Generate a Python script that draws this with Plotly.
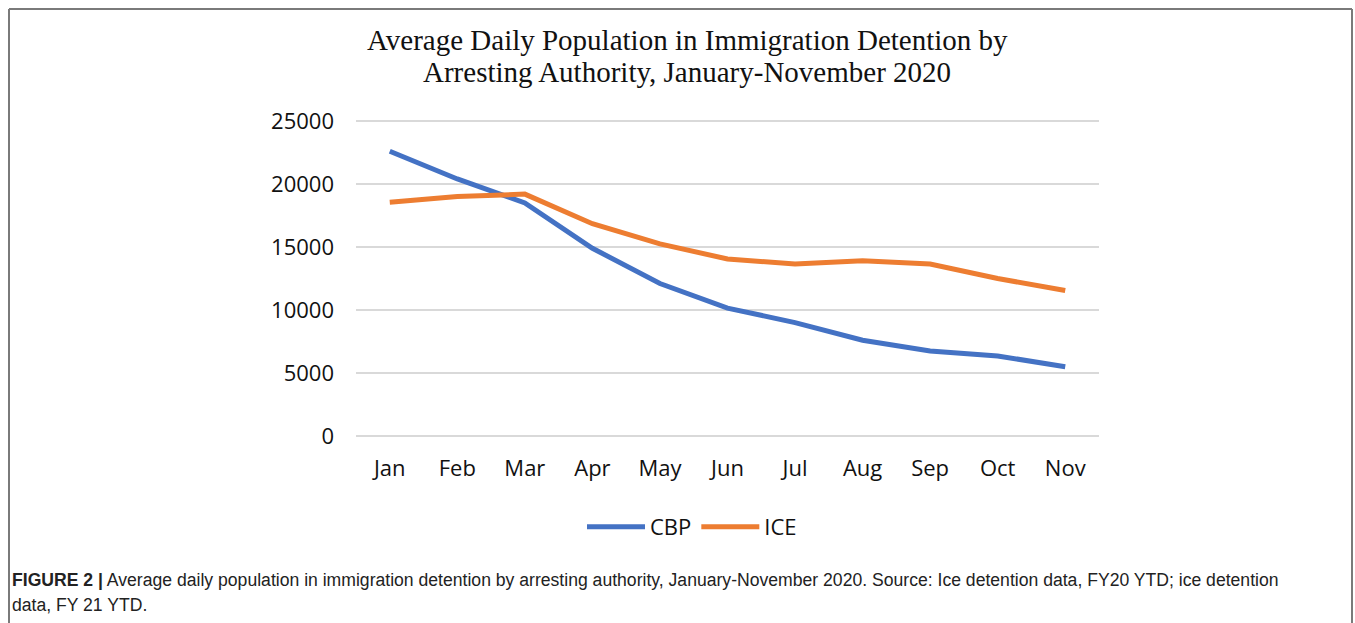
import plotly.graph_objects as go

months = ["Jan", "Feb", "Mar", "Apr", "May", "Jun", "Jul", "Aug", "Sep", "Oct", "Nov"]
cbp = [22600, 20400, 18500, 14900, 12100, 10150, 9000, 7600, 6750, 6350, 5500]
ice = [18550, 19000, 19200, 16850, 15250, 14050, 13650, 13900, 13650, 12500, 11550]
y_ticks = [0, 5000, 10000, 15000, 20000, 25000]

W, H = 1355, 623
Y_TOP, Y_BOT = 121, 436          # pixel rows of 25000 and 0
PAD = 400                        # extra data units above/below so edge gridlines render
scale = (Y_BOT - Y_TOP) / 25000.0
L, R = 356, 1099
T = Y_TOP - PAD * scale
B = Y_BOT + PAD * scale


def px_x(px):
    return (px - L) / (R - L)


def px_y(py):
    return (B - py) / (B - T)


fig = go.Figure()
fig.add_trace(go.Scatter(x=months, y=cbp, name="CBP", mode="lines",
                         line=dict(color="#4472C4", width=5)))
fig.add_trace(go.Scatter(x=months, y=ice, name="ICE", mode="lines",
                         line=dict(color="#ED7D31", width=5)))

fig.update_layout(
    width=W, height=H,
    margin=dict(l=L, r=W - R, t=T, b=H - B, autoexpand=False),
    paper_bgcolor="white", plot_bgcolor="white",
    showlegend=True,
    legend=dict(orientation="h", x=px_x(692), y=px_y(527), xanchor="center", yanchor="middle",
                font=dict(family="Open Sans", size=22, color="#111"),
                itemwidth=58, bgcolor="rgba(0,0,0,0)"),
    xaxis=dict(type="category", range=[-0.5, 10.5], showgrid=False, showline=False,
               ticks="", ticklabelstandoff=int(round(17 - PAD * scale)),
               tickfont=dict(family="Open Sans", size=22, color="#111")),
    yaxis=dict(range=[-PAD, 25000 + PAD], tickvals=y_ticks, ticktext=[str(v) for v in y_ticks],
               showgrid=True, gridcolor="#D9D9D9", gridwidth=2, zeroline=False,
               showline=False, ticks="", ticklabelstandoff=21,
               tickfont=dict(family="Open Sans", size=22, color="#111")),
)

title_font = dict(family="Liberation Serif", size=29, color="#111")
caption_font = dict(family="Liberation Sans", size=17.6, color="#222")
annotations = [
    dict(text="Average Daily Population in Immigration Detention by",
         x=px_x(687), y=px_y(40), xref="paper", yref="paper", xanchor="center", yanchor="middle",
         showarrow=False, font=title_font),
    dict(text="Arresting Authority, January-November 2020",
         x=px_x(687), y=px_y(72), xref="paper", yref="paper", xanchor="center", yanchor="middle",
         showarrow=False, font=title_font),
    dict(text="<b>FIGURE 2 |</b> Average daily population in immigration detention by arresting authority, January-November 2020. Source: Ice detention data, FY20 YTD; ice detention",
         x=px_x(10), y=px_y(580), xref="paper", yref="paper", xanchor="left", yanchor="middle",
         showarrow=False, font=caption_font),
    dict(text="data, FY 21 YTD.",
         x=px_x(10), y=px_y(605), xref="paper", yref="paper", xanchor="left", yanchor="middle",
         showarrow=False, font=caption_font),
]
fig.update_layout(annotations=annotations)

border = dict(color="#7a7a7a", width=2)
fig.update_layout(shapes=[
    dict(type="line", xref="paper", yref="paper", x0=px_x(9), x1=px_x(1352), y0=px_y(9), y1=px_y(9), line=border),
    dict(type="line", xref="paper", yref="paper", x0=px_x(9), x1=px_x(9), y0=px_y(9), y1=px_y(640), line=border),
    dict(type="line", xref="paper", yref="paper", x0=px_x(1352), x1=px_x(1352), y0=px_y(9), y1=px_y(640), line=border),
])

fig.write_html("out.html", config={"displayModeBar": False},
               post_script="document.body.style.margin='0';document.body.style.overflow='hidden';")
